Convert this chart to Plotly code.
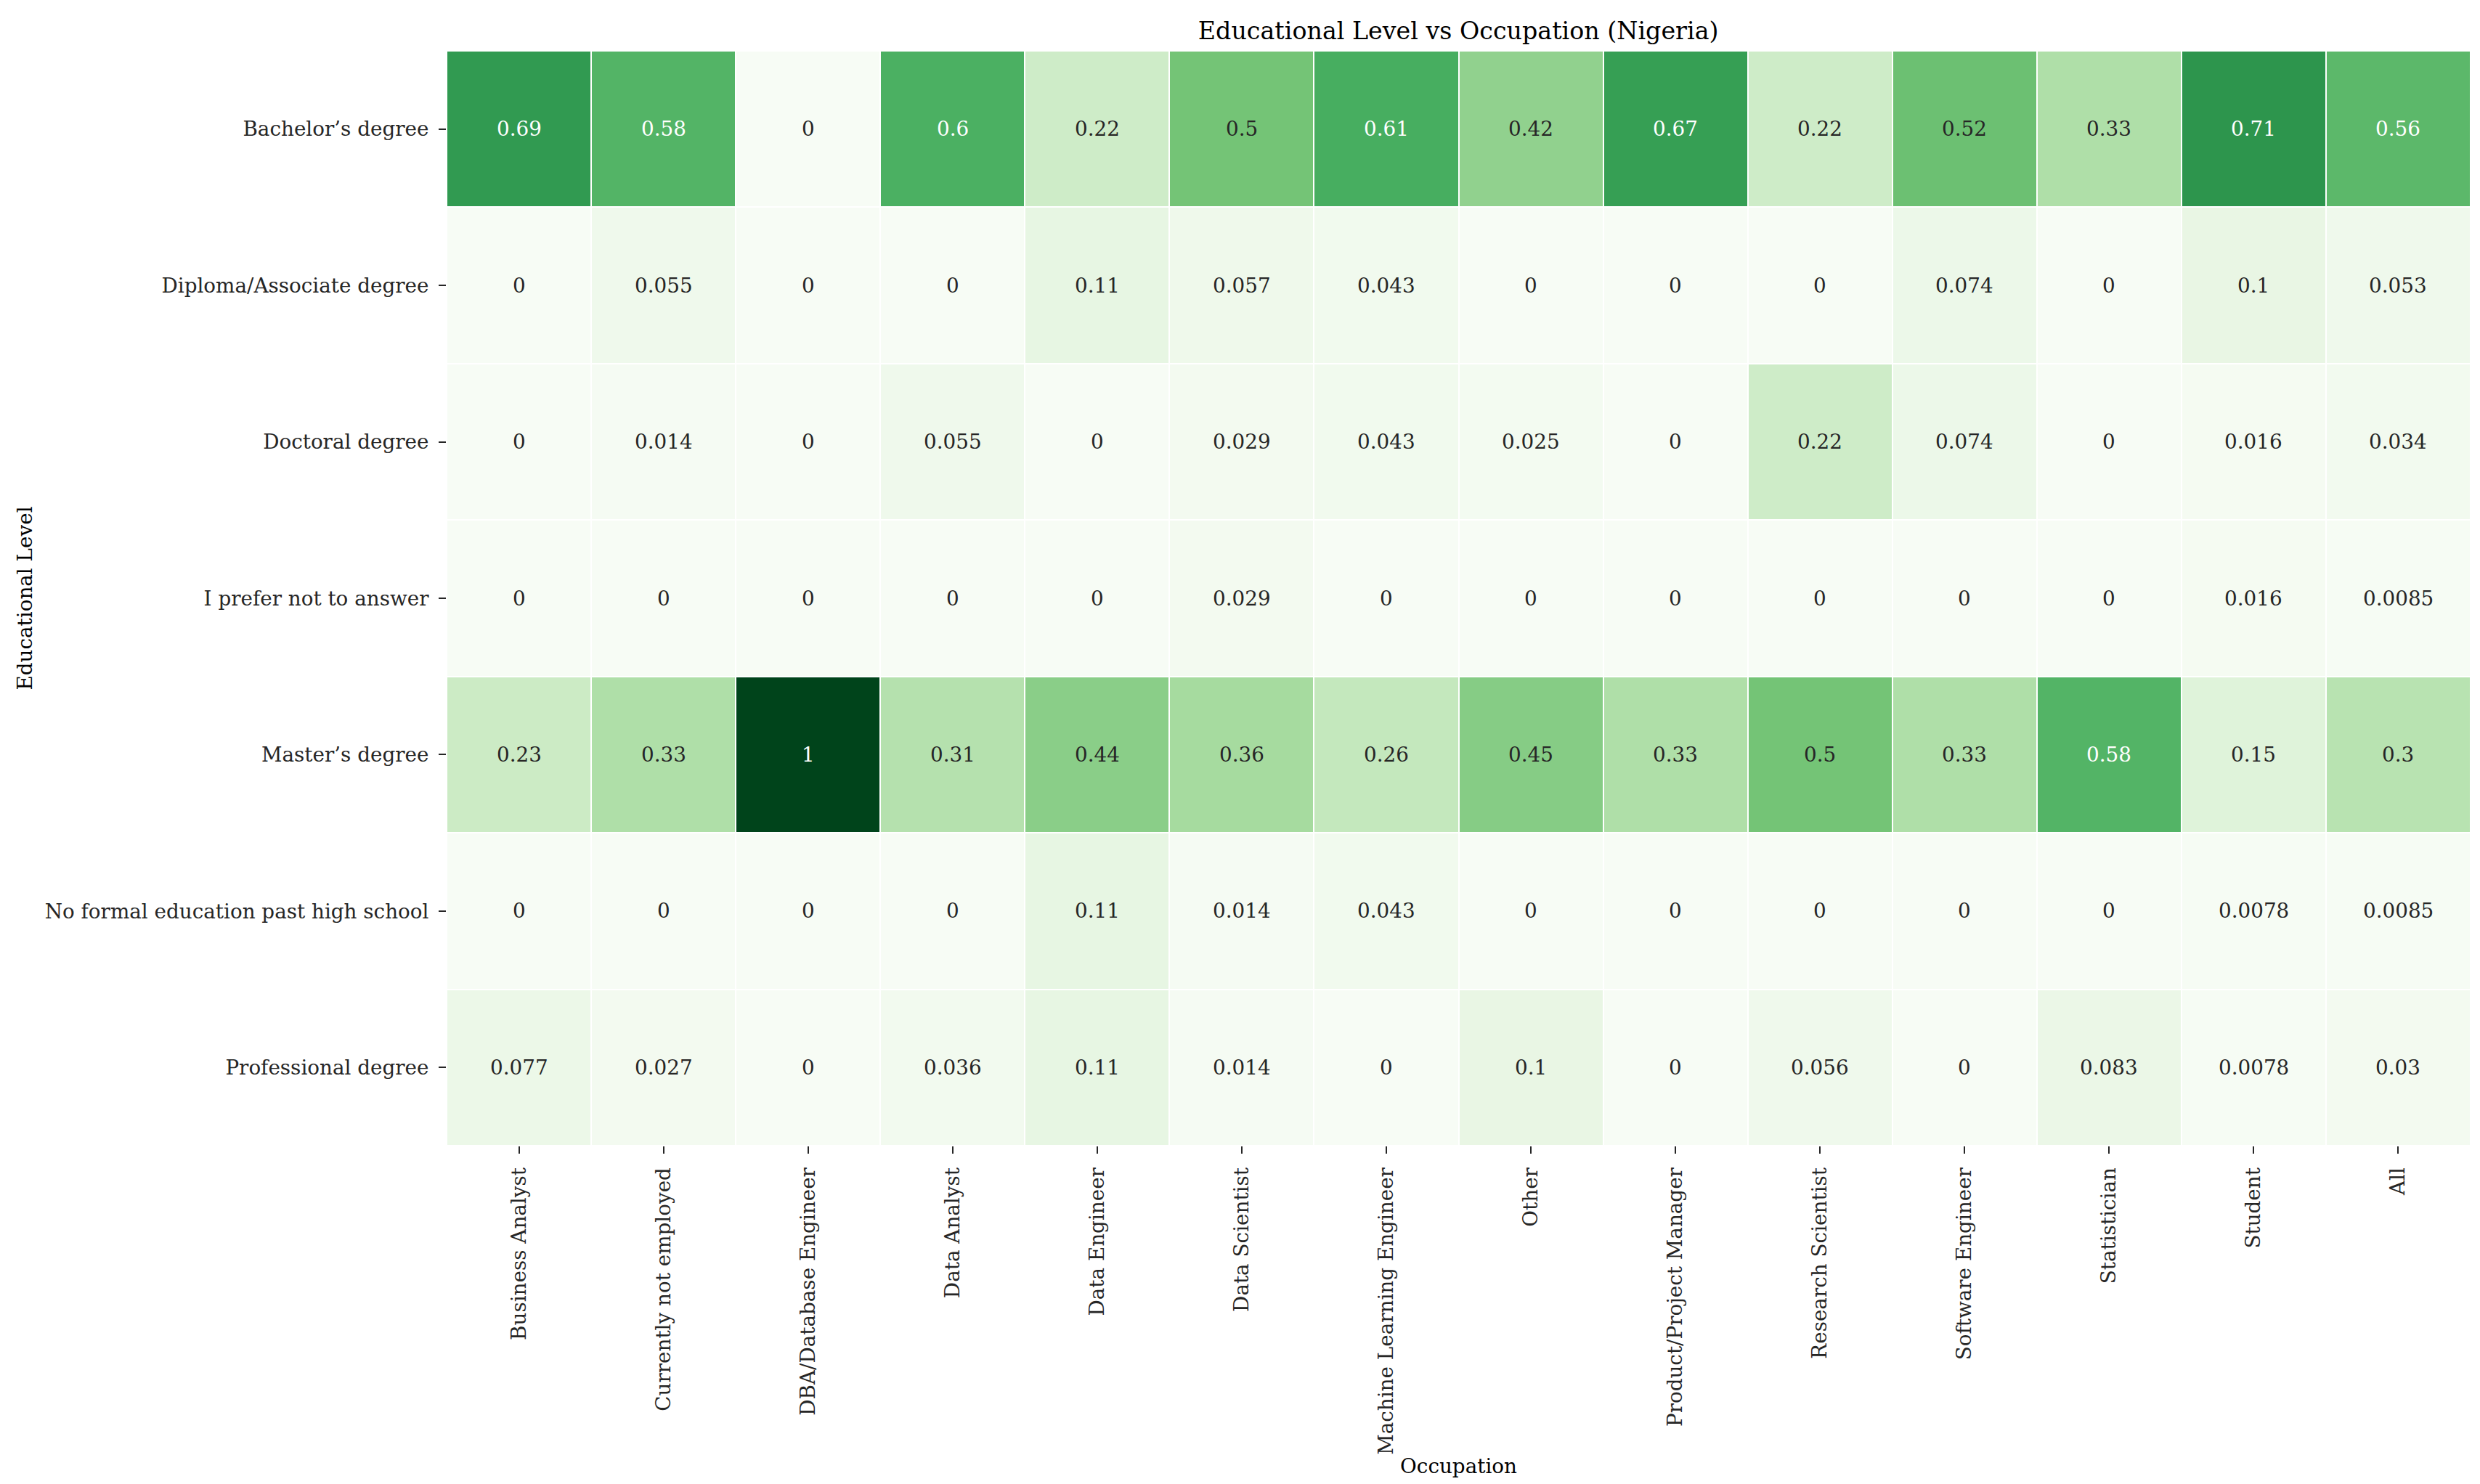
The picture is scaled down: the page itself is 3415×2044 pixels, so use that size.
import plotly.graph_objects as go

# Share of each educational level within each occupation (Nigeria)
occupations = ['Business Analyst', 'Currently not employed', 'DBA/Database Engineer',
               'Data Analyst', 'Data Engineer', 'Data Scientist', 'Machine Learning Engineer',
               'Other', 'Product/Project Manager', 'Research Scientist', 'Software Engineer',
               'Statistician', 'Student', 'All']
edu_levels = ['Bachelor’s degree', 'Diploma/Associate degree', 'Doctoral degree',
              'I prefer not to answer', 'Master’s degree',
              'No formal education past high school', 'Professional degree']

bachelors = [0.69, 0.58, 0, 0.6, 0.22, 0.5, 0.61, 0.42, 0.67, 0.22, 0.52, 0.33, 0.71, 0.56]
diploma = [0, 0.055, 0, 0, 0.11, 0.057, 0.043, 0, 0, 0, 0.074, 0, 0.1, 0.053]
doctoral = [0, 0.014, 0, 0.055, 0, 0.029, 0.043, 0.025, 0, 0.22, 0.074, 0, 0.016, 0.034]
no_answer = [0, 0, 0, 0, 0, 0.029, 0, 0, 0, 0, 0, 0, 0.016, 0.0085]
masters = [0.23, 0.33, 1, 0.31, 0.44, 0.36, 0.26, 0.45, 0.33, 0.5, 0.33, 0.58, 0.15, 0.3]
no_formal = [0, 0, 0, 0, 0.11, 0.014, 0.043, 0, 0, 0, 0, 0, 0.0078, 0.0085]
professional = [0.077, 0.027, 0, 0.036, 0.11, 0.014, 0, 0.1, 0, 0.056, 0, 0.083, 0.0078, 0.03]

z = [bachelors, diploma, doctoral, no_answer, masters, no_formal, professional]

# matplotlib "Greens" stops
greens = ['#f7fcf5', '#e5f5e0', '#c7e9c0', '#a1d99b', '#74c476',
          '#41ab5d', '#238b45', '#006d2c', '#00441b']
colorscale = [[i / 8, c] for i, c in enumerate(greens)]

def hex2rgb(h):
    return [int(h[i:i + 2], 16) for i in (1, 3, 5)]

def cmap(v):
    pos = min(max(v, 0), 1) * 8
    i = min(int(pos), 7)
    t = pos - i
    a, b = hex2rgb(greens[i]), hex2rgb(greens[i + 1])
    return [a[k] + (b[k] - a[k]) * t for k in range(3)]

def luminance(rgb):
    lin = []
    for c in rgb:
        c = c / 255
        lin.append(c / 12.92 if c <= 0.03928 else ((c + 0.055) / 1.055) ** 2.4)
    return 0.2126 * lin[0] + 0.7152 * lin[1] + 0.0722 * lin[2]

FONT = 'DejaVu Serif'
FS = 27.8

fig = go.Figure(go.Heatmap(
    z=z, x=occupations, y=edu_levels,
    colorscale=colorscale, zmin=0, zmax=1,
    xgap=2, ygap=2, showscale=False))

annotations = []
for r, row in enumerate(z):
    for c, v in enumerate(row):
        col = '#262626' if luminance(cmap(v)) > 0.408 else 'white'
        annotations.append(dict(x=occupations[c], y=edu_levels[r], text=format(v, '.2g'),
                                showarrow=False, font=dict(family=FONT, size=FS, color=col)))

fig.update_layout(
    width=3415, height=2044,
    margin=dict(l=607, r=21, t=62, b=474),
    paper_bgcolor='white', plot_bgcolor='white',
    font=dict(family=FONT, size=FS, color='#262626'),
    title=dict(text='Educational Level vs Occupation (Nigeria)', x=0.5857, xanchor='center',
               y=0.983, yanchor='middle', font=dict(family=FONT, size=33.3, color='black')),
    annotations=annotations,
)
fig.update_xaxes(
    title=dict(text='Occupation', font=dict(size=FS, color='black'), standoff=6),
    tickangle=-90, ticks='outside', ticklen=10, tickwidth=2, tickcolor='#262626',
    showgrid=False, zeroline=False, showline=False, ticklabelstandoff=8,
)
fig.update_yaxes(
    title=dict(text='Educational Level', font=dict(size=FS, color='black'), standoff=8),
    autorange='reversed', ticks='outside', ticklen=10, tickwidth=2, tickcolor='#262626',
    showgrid=False, zeroline=False, showline=False, ticklabelstandoff=8,
)

fig.write_html("out.html")
